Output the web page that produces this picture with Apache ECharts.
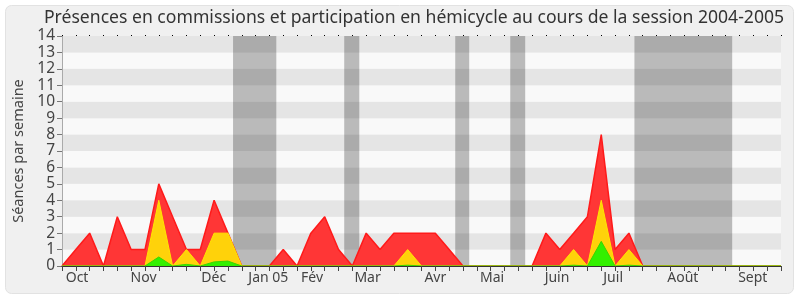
<!DOCTYPE html>
<html><head><meta charset="utf-8">
<script src="https://cdn.jsdelivr.net/npm/echarts@6/dist/echarts.min.js"></script>
<style>html,body{margin:0;padding:0;background:#fff}#c{width:800px;height:300px}</style>
</head><body><div id="c"></div>
<script>
// Weekly values, week index 0..52
var weeks = [];
for (var k = 0; k <= 52; k++) weeks.push(k);
var commissions = [0,1,2,0,3,1,1,5,3,1,1,4,2,0,0,0,1,0,2,3,1,0,2,1,2,2,2,2,1,0,0,0,0,0,0,2,1,2,3,8,1,2,0,0,0,0,0,0,0,0,0,0,0];
var hemicycle   = [0,0,0,0,0,0,0,4,0,1,0,2,2,0,0,0,0,0,0,0,0,0,0,0,0,1,0,0,0,0,0,0,0,0,0,0,0,1,0,4,0,1,0,0,0,0,0,0,0,0,0,0,0];
var interventions=[0,0,0,0,0,0,0,0.55,0,0.1,0,0.25,0.3,0,0,0,0,0,0,0,0,0,0,0,0,0.05,0,0,0,0,0,0,0,0,0,0,0,0.05,0,1.5,0,0.05,0,0,0,0,0,0,0,0,0,0,0];
var monthLabels = ['Oct','Nov','Déc','Jan 05','Fév','Mar','Avr','Mai','Juin','Juil','Août','Sept'];
var monthPos    = [1.09,5.9,10.97,14.92,18.08,22.1,27.0,31.1,35.8,39.86,44.9,49.96];
var vacances = [[12.37,15.5],[20.41,21.5],[28.44,29.45],[32.42,33.5],[41.4,48.47]];
var yTicks = [0,1,2,3,4,5,6,7,8,9,10,11,12,13,14];

function pairs(arr){ return weeks.map(function(w,i){ return [w, arr[i]]; }); }

var chart = echarts.init(document.getElementById('c'), null, {renderer:'canvas'});
var FONT = 'Noto Sans';
chart.setOption({
  animation: false,
  backgroundColor: '#ffffff',
  graphic: [{
    type: 'rect', z: -10, silent: true,
    shape: {x: 5.5, y: 5.5, width: 788, height: 288, r: 6},
    style: {fill: '#f0f0f0', stroke: '#e2e2e2', lineWidth: 1}
  }],
  title: {
    text: 'Présences en commissions et participation en hémicycle au cours de la session 2004-2005',
    left: 409, top: 4, textAlign: 'center',
    textStyle: {fontFamily: FONT, fontSize: 17.6, fontWeight: 'normal', color: '#333'}
  },
  grid: {left: 62, right: 19, top: 36, bottom: 34, show: false},
  xAxis: [{
    type: 'value', min: 0, max: 52, interval: 1, position: 'bottom', z: 10,
    axisLine: {show: true, lineStyle: {color: '#333', width: 1}},
    axisTick: {show: true, length: 5, lineStyle: {color: '#444'}},
    axisLabel: {show: false},
    splitLine: {show: false}
  },{
    type: 'value', min: 0, max: 52, position: 'bottom', z: 10,
    axisLine: {show: false}, axisTick: {show: false}, splitLine: {show: false},
    axisLabel: {
      show: true, customValues: monthPos, margin: 5,
      fontFamily: FONT, fontSize: 14, color: '#444',
      formatter: function(v){ var i = monthPos.indexOf(v); return i >= 0 ? monthLabels[i] : ''; }
    }
  },{
    type: 'value', min: 0, max: 52, interval: 1, position: 'top', z: 10,
    axisLine: {show: false},
    axisTick: {show: true, length: 1, lineStyle: {color: '#000'}},
    axisLabel: {show: false}, splitLine: {show: false}
  }],
  yAxis: [{
    type: 'value', min: 0, max: 14, interval: 1,
    name: 'Séances par semaine', nameLocation: 'middle', nameGap: 36,
    nameTextStyle: {fontFamily: FONT, fontSize: 14.5, color: '#444'},
    axisLine: {show: true, lineStyle: {color: '#333'}},
    axisTick: {show: true, length: 5, lineStyle: {color: '#777'}},
    axisLabel: {fontFamily: FONT, fontSize: 15.5, color: '#444', margin: 7,
      formatter: function(v){ return yTicks.indexOf(v) >= 0 ? String(v) : ''; }},
    splitLine: {show: false},
    splitArea: {show: true, areaStyle: {color: ['#f9f9f9', '#e5e5e5']}}
  },{
    type: 'value', min: 0, max: 14, position: 'right',
    axisLine: {show: true, lineStyle: {color: '#aaa'}},
    axisTick: {show: false}, axisLabel: {show: false}, splitLine: {show: false}
  }],
  series: [{
    type: 'line', data: [], z: 1, silent: true,
    markArea: {
      silent: true,
      itemStyle: {color: 'rgba(0,0,0,0.25)'},
      data: vacances.map(function(b){ return [{xAxis: b[0]}, {xAxis: b[1]}]; })
    }
  },{
    name: 'commissions', type: 'line', data: pairs(commissions), z: 2,
    symbol: 'none', lineStyle: {color: '#ff1a1a', width: 1.5},
    areaStyle: {color: '#ff3636', opacity: 1}
  },{
    name: 'hemicycle', type: 'line', data: pairs(hemicycle), z: 3,
    symbol: 'none', lineStyle: {color: '#ffe600', width: 1},
    areaStyle: {color: '#ffd20a', opacity: 1}
  },{
    name: 'interventions', type: 'line', data: pairs(interventions), z: 4,
    symbol: 'none', lineStyle: {color: '#3ad400', width: 1},
    areaStyle: {color: '#33f000', opacity: 1}
  }]
});
</script></body></html>
